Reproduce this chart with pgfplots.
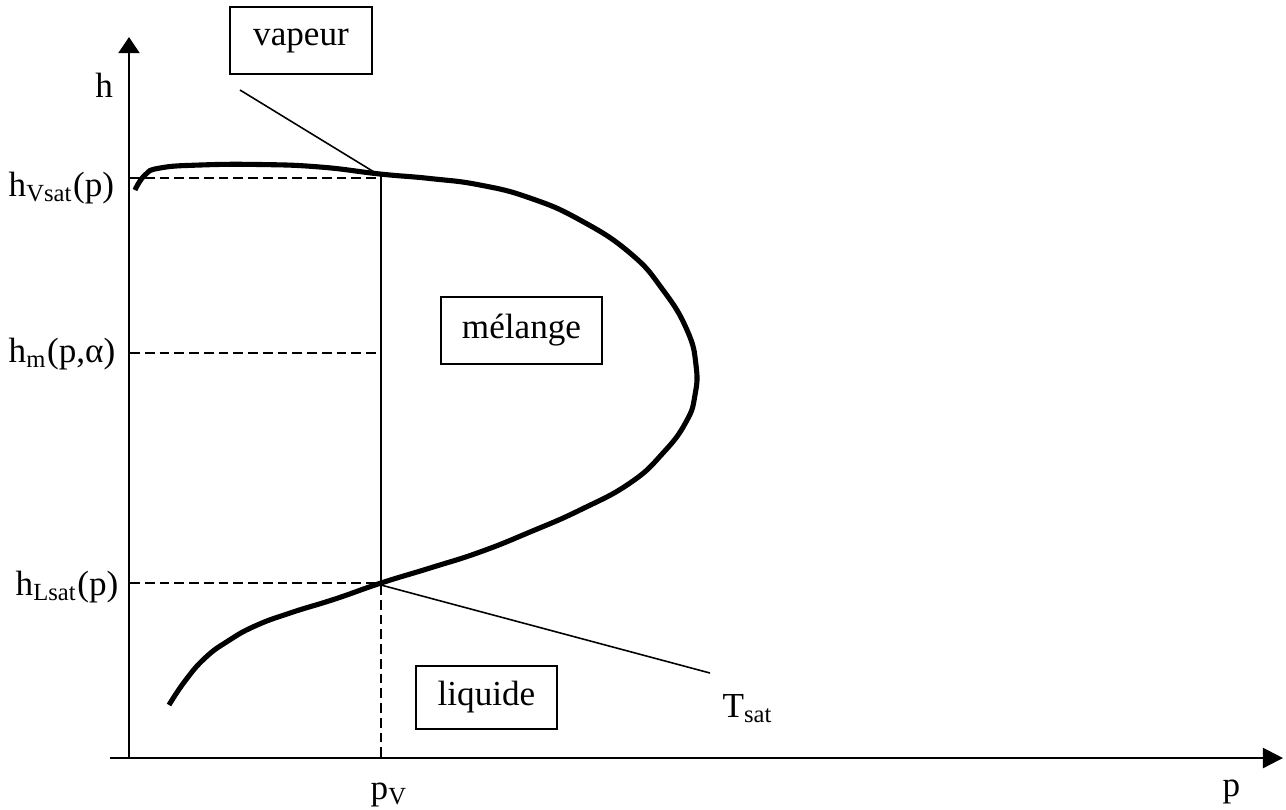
\documentclass[border=0pt]{standalone}
\usepackage{fontspec}
\setmainfont{Liberation Serif}
\usepackage{pgfplots}
\pgfplotsset{compat=1.18}
\usetikzlibrary{arrows.meta}
\begin{document}
\begin{tikzpicture}
\begin{axis}[
  width=12.86cm, height=8.09cm, scale only axis,
  xmin=0, xmax=1286, ymin=0, ymax=809, y dir=reverse,
  axis lines=none, clip=false,
  every node/.style={font=\fontsize{9}{10}\selectfont},
]
\coordinate (SW) at (axis cs:0,809);
\coordinate (NE) at (axis cs:1286,0);
% axes
\addplot[line width=0.6pt, -{Triangle[length=4.6pt,width=6pt]}] coordinates {(129,759) (129,37)};
\addplot[line width=0.6pt, -{Triangle[length=5.7pt,width=5.7pt]}] coordinates {(110,758) (1283,758)};
% dashed guides
\addplot[line width=0.45pt, dash pattern=on 2.8pt off 1.4pt] coordinates {(130,178) (380,178)};
\addplot[line width=0.45pt, dash pattern=on 2.8pt off 1.4pt] coordinates {(130,353) (380,353)};
\addplot[line width=0.45pt, dash pattern=on 2.8pt off 1.4pt] coordinates {(130,583) (380,583)};
\addplot[line width=0.45pt, dash pattern=on 2.8pt off 1.4pt] coordinates {(381,585) (381,758)};
% vertical solid
\addplot[line width=0.45pt] coordinates {(381,174) (381,585)};
% leaders
\addplot[line width=0.45pt] coordinates {(240,90) (379,175)};
\addplot[line width=0.45pt] coordinates {(381,585) (710,673)};
% saturation curve
\addplot[line width=1.45pt, smooth, tension=0.8] coordinates {
(135,190) (145,175) (160,168) (200,165) (260,164.5) (320,167)
(380,174) (430,178.5) (480,185) (530,198) (580,220) (630,253) (663,290)
(687,330) (696,365) (695,395) (686,422) (663,453) (630,483) (580,510) (530,532)
(480,552) (430,568) (381,583) (335,599) (290,613) (255,626) (228,641) (205,658)
(185,681) (169,705)};
% labels
\node[anchor=base west] at (axis cs:83,97) {h};
\node[anchor=base west, inner sep=0pt] at (axis cs:8,196) {h\textsubscript{Vsat}(p)};
\node[anchor=base west, inner sep=0pt] at (axis cs:8,362) {h\textsubscript{m}(p,α)};
\node[anchor=base west, inner sep=0pt] at (axis cs:15,595) {h\textsubscript{Lsat}(p)};
\node[anchor=base west, inner sep=0pt] at (axis cs:370,799) {p\textsubscript{V}};
\node[anchor=base west, inner sep=0pt] at (axis cs:1222,796) {p};
\node[anchor=base west, inner sep=0pt] at (axis cs:722,717) {T\textsubscript{sat}};
% boxes
\node[draw, line width=0.4pt, inner sep=0pt, minimum width=40.4pt, minimum height=19.1pt] at (axis cs:301,40.5) {vapeur};
\node[draw, line width=0.4pt, inner sep=0pt, minimum width=45.8pt, minimum height=19.1pt] at (axis cs:521.5,330.5) {mélange};
\node[draw, line width=0.4pt, inner sep=0pt, minimum width=40.1pt, minimum height=17.9pt] at (axis cs:486.5,697.5) {liquide};
\end{axis}
\pgfresetboundingbox
\path (SW) rectangle (NE);
\end{tikzpicture}
\end{document}
